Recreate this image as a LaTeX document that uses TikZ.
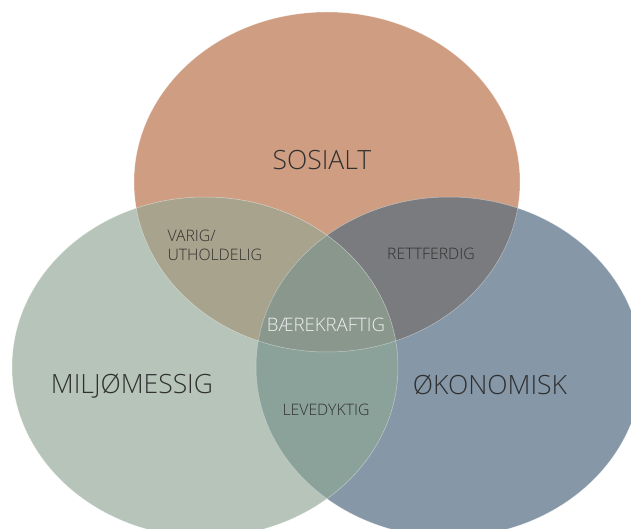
\documentclass[tikz,border=0pt]{standalone}
\usepackage{fontspec}
\setmainfont{Open Sans}[UprightFont={* Light}]
\usepackage{tikz}

\definecolor{sosialC}{HTML}{CF9E82}
\definecolor{miljoC}{HTML}{B6C4B9}
\definecolor{okonC}{HTML}{8697A7}
\definecolor{smC}{HTML}{A8A38C}
\definecolor{soC}{HTML}{7A7B7E}
\definecolor{moC}{HTML}{8BA29B}
\definecolor{allC}{HTML}{89978D}
\definecolor{textC}{HTML}{303030}

\tikzset{
  bigtext/.style={text=textC, font=\fontsize{26.5}{30}\selectfont},
  smalltext/.style={text=textC, font=\fontsize{15.8}{19}\selectfont, align=left},
  rim/.style={draw=white, draw opacity=0.45, line width=0.5pt}
}

\begin{document}
\begin{tikzpicture}[x=1pt, y=-1pt]
  \useasboundingbox (0,0) rectangle (631,529);
  \coordinate (sos) at (327,182);
  \coordinate (mil) at (205,367);
  \coordinate (oko) at (449,367);
  \newcommand\shape[1]{(#1) ellipse [x radius=193pt, y radius=170pt]}
  % the three circles
  \fill[sosialC] \shape{sos};
  \fill[miljoC] \shape{mil};
  \fill[okonC] \shape{oko};
  % overlaps two by two
  \begin{scope}
    \clip \shape{sos};
    \fill[smC] \shape{mil};
    \fill[soC] \shape{oko};
  \end{scope}
  \begin{scope}
    \clip \shape{mil};
    \fill[moC] \shape{oko};
  \end{scope}
  % middle part
  \begin{scope}
    \clip \shape{sos};
    \clip \shape{mil};
    \fill[allC] \shape{oko};
  \end{scope}
  \foreach \c in {sos,mil,oko} {
    \draw[rim] \shape{\c};
  }
  % labels
  \node[bigtext] at (322,160) (sosialt) {SOSIALT};
  \node[bigtext] at (132,386) (miljo) {MILJØMESSIG};
  \node[bigtext] at (490,385) (okonomisk) {ØKONOMISK};
  \node[smalltext, anchor=west] at (164,245) (varig) {VARIG/\\UTHOLDELIG};
  \node[smalltext] at (431,254) (rettferdig) {RETTFERDIG};
  \node[smalltext] at (326,410) (levedyktig) {LEVEDYKTIG};
  \node[text=white!94!black, font=\fontsize{18.6}{21}\selectfont] at (326,325) (baerekraftig) {BÆREKRAFTIG};
\end{tikzpicture}
\end{document}
